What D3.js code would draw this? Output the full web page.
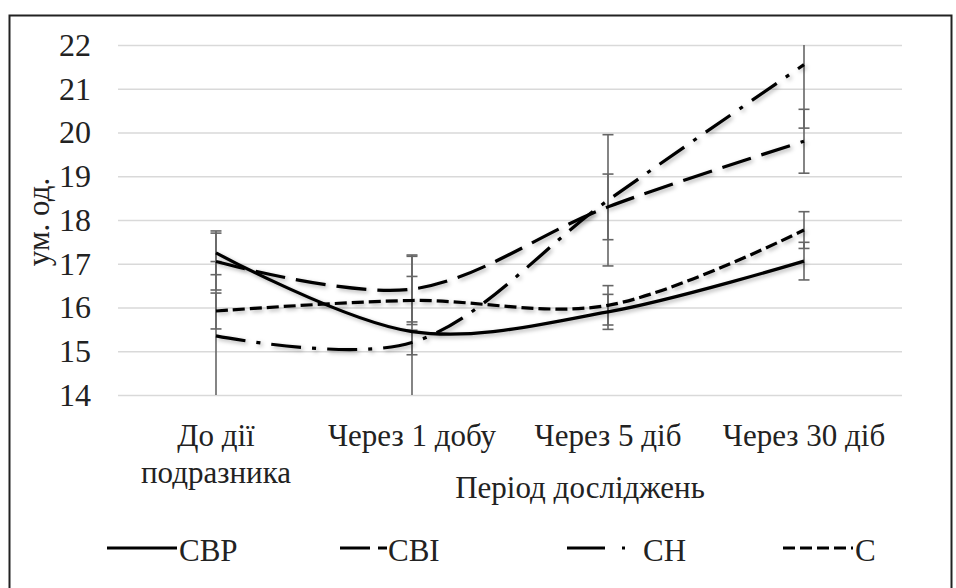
<!DOCTYPE html>
<html>
<head>
<meta charset="utf-8">
<script src="https://cdn.jsdelivr.net/npm/d3@7"></script>
<style>
  body { margin: 0; background: #fff; }
</style>
</head>
<body>
<div id="chart"></div>
<script>
// categories (multi-line labels) and tick values
var categories = [["До дії", "подразника"], ["Через 1 добу"], ["Через 5 діб"], ["Через 30 діб"]];
var yTicks = [14, 15, 16, 17, 18, 19, 20, 21, 22];

// series values
var seriesNames = ["СВР", "СВІ", "СН", "С"];
var cbrValues = [17.25, 15.45, 15.9, 17.06];
var cbiValues = [17.05, 16.42, 18.3, 19.8];
var chValues  = [15.35, 15.2, 18.45, 21.55];
var cValues   = [15.92, 16.16, 16.05, 17.77];

// error bar half-widths (± value)
var cbrErr = [0.5, 1.75, 0.4, 0.43];
var cbiErr = [0.65, 0.75, 0.75, 0.73];
var chErr  = [1.7, 0.28, 1.5, 1.45];
var cErr   = [0.41, 0.55, 0.45, 0.42];

var W = 956, H = 588;
var plot = {left: 118, right: 902, top: 45, bottom: 395};
var FONT = "'Liberation Serif'";

var series = [
  {name: seriesNames[0], values: cbrValues, err: cbrErr, dash: null},
  {name: seriesNames[1], values: cbiValues, err: cbiErr, dash: "30,11"},
  {name: seriesNames[2], values: chValues,  err: chErr,  dash: "30,11,4,11"},
  {name: seriesNames[3], values: cValues,   err: cErr,   dash: "12,5"}
];

var svg = d3.select("#chart").append("svg")
    .attr("width", W)
    .attr("height", H);

var defs = svg.append("defs");
defs.append("clipPath").attr("id", "plotclip")
  .append("rect")
    .attr("x", plot.left - 20).attr("y", plot.top)
    .attr("width", plot.right - plot.left + 40)
    .attr("height", plot.bottom - plot.top);
var f = defs.append("filter").attr("id", "shadow")
    .attr("x", "-5%").attr("y", "-20%").attr("width", "110%").attr("height", "140%");
f.append("feDropShadow")
    .attr("dx", 2).attr("dy", 2).attr("stdDeviation", 2)
    .attr("flood-color", "#000").attr("flood-opacity", 0.3);

// outer frame
svg.append("rect")
    .attr("x", 9.5).attr("y", 15.5)
    .attr("width", W - 14).attr("height", H)
    .attr("fill", "#fff")
    .attr("stroke", "#222")
    .attr("stroke-width", 2);

/*----- SCALES -----*/
var xScale = d3.scaleBand()
    .domain(d3.range(categories.length))
    .range([plot.left, plot.right]);
var yScale = d3.scaleLinear()
    .domain([14, 22])
    .range([plot.bottom, plot.top]);
var cx = function(i){ return xScale(i) + xScale.bandwidth() / 2; };

/*----- GRID + Y AXIS -----*/
var yAxis = d3.axisLeft(yScale)
    .tickValues(yTicks)
    .tickSize(-(plot.right - plot.left))
    .tickPadding(27)
    .tickFormat(d3.format("d"));
var gy = svg.append("g")
    .attr("transform", "translate(" + plot.left + ",0)")
    .call(yAxis);
gy.select(".domain").remove();
gy.selectAll(".tick line")
    .attr("stroke", "#d9d9d9")
    .attr("stroke-width", 1.5);
gy.selectAll(".tick text")
    .attr("fill", "#222")
    .attr("font-family", FONT)
    .attr("font-size", 32);

svg.append("text")
    .attr("transform", "translate(38," + 222 + ") rotate(-90)")
    .attr("text-anchor", "middle")
    .attr("dy", "0.35em")
    .attr("fill", "#222")
    .attr("font-family", FONT)
    .attr("font-size", 31)
    .text("ум. од.");

/*----- X LABELS -----*/
var xl = svg.append("g");
categories.forEach(function(lines, i){
  var t = xl.append("text")
      .attr("text-anchor", "middle")
      .attr("fill", "#222")
      .attr("font-family", FONT)
      .attr("font-size", 31);
  lines.forEach(function(line, j){
    t.append("tspan")
      .attr("x", cx(i))
      .attr("y", 446 + j * 37)
      .text(line);
  });
});

svg.append("text")
    .attr("x", 580).attr("y", 498)
    .attr("text-anchor", "middle")
    .attr("fill", "#222")
    .attr("font-family", FONT)
    .attr("font-size", 31)
    .text("Період досліджень");

/*----- ERROR BARS -----*/
var eb = svg.append("g").attr("clip-path", "url(#plotclip)");
series.forEach(function(s){
  s.values.forEach(function(v, i){
    var x = cx(i), y1 = yScale(v + s.err[i]), y2 = yScale(v - s.err[i]);
    eb.append("line")
      .attr("x1", x).attr("x2", x).attr("y1", y1).attr("y2", y2)
      .attr("stroke", "#666").attr("stroke-width", 1.6);
    [y1, y2].forEach(function(y){
      eb.append("line")
        .attr("x1", x - 5.5).attr("x2", x + 5.5).attr("y1", y).attr("y2", y)
        .attr("stroke", "#666").attr("stroke-width", 1.6);
    });
  });
});

/*----- LINES -----*/
var line = d3.line()
    .x(function(d, i){ return cx(i); })
    .y(function(d){ return yScale(d); })
    .curve(d3.curveCatmullRom.alpha(0.5));

svg.append("g").selectAll("path")
  .data(series)
  .enter()
  .append("path")
    .attr("d", function(s){ return line(s.values); })
    .attr("fill", "none")
    .attr("stroke", "#000")
    .attr("stroke-width", 3.2)
    .attr("stroke-dasharray", function(s){ return s.dash; })
    .attr("filter", "url(#shadow)");

/*----- LEGEND -----*/
var legendY = 548;
var legendItems = [
  {x1: 107, x2: 177, tx: 179, dash: null},
  {x1: 340, x2: 387, tx: 388, dash: "30,8"},
  {x1: 567, x2: 627, tx: 643, dash: "38,17,3,30"},
  {x1: 783, x2: 853, tx: 855, dash: "12,5"}
];
var lg = svg.append("g");
series.forEach(function(s, i){
  var it = legendItems[i];
  lg.append("line")
    .attr("x1", it.x1).attr("x2", it.x2)
    .attr("y1", legendY).attr("y2", legendY)
    .attr("stroke", "#000").attr("stroke-width", 3.2)
    .attr("stroke-dasharray", it.dash);
  lg.append("text")
    .attr("x", it.tx).attr("y", legendY + 13)
    .attr("fill", "#222")
    .attr("font-family", FONT)
    .attr("font-size", 31)
    .text(s.name);
});
</script>
</body>
</html>
